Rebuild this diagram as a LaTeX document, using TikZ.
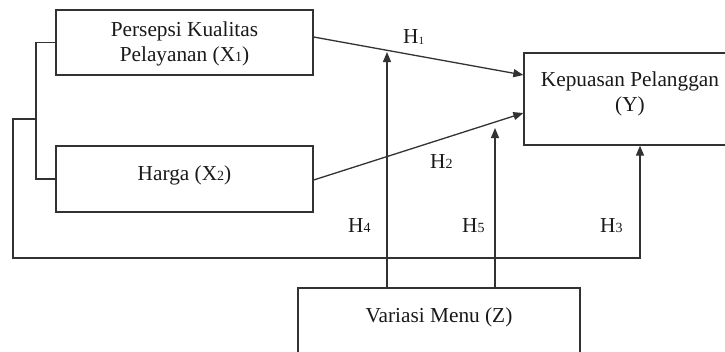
\documentclass[tikz,border=0pt]{standalone}
\usepackage{fontspec}
\setmainfont{Liberation Serif}
\usetikzlibrary{arrows.meta}
\definecolor{linec}{RGB}{50,50,50}
\definecolor{txtc}{RGB}{25,25,25}
\newcommand{\mysub}[1]{{\fontsize{14}{14}\selectfont #1}}
\newcommand{\mysubs}[1]{\raisebox{-1pt}{\fontsize{11}{11}\selectfont #1}}
\begin{document}
\begin{tikzpicture}[x=1pt,y=-1pt,
  box/.style={draw=linec, line width=1.3pt, rectangle, inner sep=0pt},
  conn/.style={draw=linec, line width=1.3pt},
  arr/.style={conn, -{Triangle[length=10pt,width=8pt]}},
  txt/.style={font=\fontsize{21.3}{24.5}\selectfont, text=txtc, inner sep=0pt}]
\useasboundingbox (0,0) rectangle (725,351);
\clip (0,0) rectangle (725,351);
% boxes
\node[box, minimum width=257pt, minimum height=65pt] (x1) at (184.5,42.5) {};
\node[box, minimum width=257pt, minimum height=66pt] (x2) at (184.5,179) {};
\node[box, minimum width=232pt, minimum height=92pt] (y) at (640,99) {};
\node[box, minimum width=282pt, minimum height=72pt] (z) at (439,324) {};
% texts
\node[txt, align=center] (x1t) at (184.5,44) {Persepsi Kualitas\\Pelayanan (X\mysub{1})};
\node[txt, anchor=base] (x2t) at (184.5,180) {Harga (X\mysub{2})};
\node[txt, align=center] (yt) at (630,94) {Kepuasan Pelanggan\\(Y)};
\node[txt, anchor=base] (zt) at (439,322) {Variasi Menu (Z)};
% hypothesis labels
\node[txt, anchor=base west] (h1) at (403,43) {H\mysubs{1}};
\node[txt, anchor=base west] (h2) at (430,168) {H\mysub{2}};
\node[txt, anchor=base west] (h4) at (348,232) {H\mysub{4}};
\node[txt, anchor=base west] (h5) at (462,232) {H\mysub{5}};
\node[txt, anchor=base west] (h3) at (600,232) {H\mysub{3}};
% coordinates
\coordinate (t4) at (387,52);
\coordinate (t5) at (495,128);
\coordinate (bj) at (36,119);
\coordinate (bl) at (13,258);
% connectors
\draw[arr] ([yshift=5.5pt]x1.east) -- ([yshift=24pt]y.west);
\draw[arr] ([yshift=-1pt]x2.east) -- ([yshift=-14pt]y.west);
\draw[arr] (z.north -| t4) -- (t4);
\draw[arr] (z.north -| t5) -- (t5);
\draw[conn] (x1.west) -- (x1.west -| bj) |- (x2.west);
\draw[arr] (bj) -| (bl) -| (y.south);
\end{tikzpicture}
\end{document}
